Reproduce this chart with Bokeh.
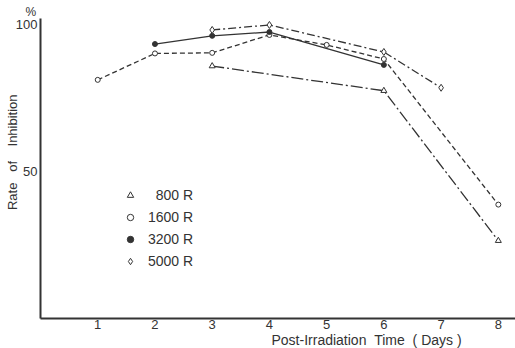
from bokeh.plotting import figure
from bokeh.models import FixedTicker, Legend, LegendItem, Range1d, Title
from bokeh.embed import file_html
from bokeh.resources import INLINE

# Data (Rate of inhibition, %)
days_800 = [3, 6, 8]
val_800 = [86, 77.6, 26.5]
days_1600 = [1, 2, 3, 4, 5, 6, 8]
val_1600 = [81.3, 90.3, 90.5, 96.6, 93.2, 88.4, 38.8]
days_3200 = [2, 3, 4, 6]
val_3200 = [93.5, 96.3, 97.6, 86.4]
days_5000 = [3, 4, 6, 7]
val_5000 = [98.3, 100, 90.8, 78.6]
x_ticks = [1, 2, 3, 4, 5, 6, 7, 8]
y_ticks = [50, 100]

FONT = "Liberation Sans"
INK = "#333333"
NB = "\u00a0"
FS = "\u2007"  # figure space, to right-align the legend labels

p = figure(width=515, height=348, output_backend="svg", toolbar_location=None,
           x_range=Range1d(0.0, 8.30), y_range=Range1d(0, 102.2),
           min_border_left=40, min_border_right=0, min_border_top=18, min_border_bottom=30)
p.grid.visible = False
p.outline_line_color = None
p.background_fill_color = "white"
p.border_fill_color = "white"

for ax in (p.xaxis[0], p.yaxis[0]):
    ax.axis_line_color = INK
    ax.axis_line_width = 2
    ax.major_tick_line_color = None
    ax.minor_tick_line_color = None
    ax.major_tick_out = 0
    ax.major_tick_in = 0
    ax.minor_tick_out = 0
    ax.minor_tick_in = 0
    ax.major_label_text_font = FONT
    ax.major_label_text_color = INK
    ax.major_label_text_font_size = "13px"

p.xaxis[0].ticker = FixedTicker(ticks=x_ticks)
p.xaxis[0].major_label_standoff = 1
p.yaxis[0].ticker = FixedTicker(ticks=y_ticks)
p.yaxis[0].major_label_standoff = 3
p.yaxis[0].axis_label = NB * 9 + "Rate" + NB * 3 + "of" + NB * 4 + "Inhibition"
p.yaxis[0].axis_label_text_font = FONT
p.yaxis[0].axis_label_text_font_size = "13px"
p.yaxis[0].axis_label_text_font_style = "normal"
p.yaxis[0].axis_label_text_color = INK
p.yaxis[0].axis_label_standoff = -7

series = [
    (FS + "800 R", days_800, val_800, "12 3 2 3", "triangle", "white", 6),
    ("1600 R", days_1600, val_1600, "5 3", "circle", "white", 5),
    ("3200 R", days_3200, val_3200, "solid", "circle", INK, 5),
    ("5000 R", days_5000, val_5000, "8 3 2 3", "diamond", "white", 7),
]
items = []
for name, xs, ys, dash, marker, fill, size in series:
    p.line(xs, ys, line_color=INK, line_width=1.3, line_dash=dash)
    r = p.scatter(xs, ys, marker=marker, size=size, line_color=INK, fill_color=fill, line_width=1)
    items.append(LegendItem(label=name, renderers=[r]))

legend = Legend(items=items, location=(80, 49), padding=0, margin=0,
                border_line_color=None, background_fill_alpha=0,
                glyph_width=20, glyph_height=16, label_height=16, spacing=6,
                label_standoff=8, label_text_font=FONT, label_text_font_size="14px",
                label_text_color=INK)
p.add_layout(legend, "center")

p.add_layout(Title(text="%", align="left", offset=-15, standoff=0, text_font=FONT,
                   text_font_size="12px", text_font_style="normal", text_color=INK), "above")
p.add_layout(Title(text="Post-Irradiation" + NB * 2 + "Time" + NB * 2 + "( Days )", align="left",
                   offset=231, standoff=-3, text_font=FONT, text_font_size="14px",
                   text_font_style="normal", text_color=INK), "below")

open("out.html", "w").write(file_html(p, INLINE))
